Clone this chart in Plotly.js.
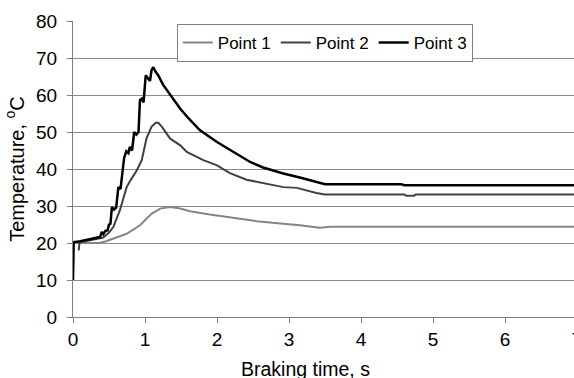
<!DOCTYPE html>
<html>
<head>
<meta charset="utf-8">
<script src="https://cdn.plot.ly/plotly-3.0.1.min.js"></script>
<style>
html,body{margin:0;padding:0;overflow:hidden;background:#fff;}
#chart{width:578px;height:378px;}
</style>
</head>
<body>
<div id="chart"></div>
<script>
const seriesNames = ["Point 1", "Point 2", "Point 3"];
const p1x = [0, 0.375, 0.45, 0.56, 0.745, 0.93, 1.09, 1.21, 1.35, 1.49, 1.625, 1.9, 2.23, 2.55, 2.92, 3.15, 3.43, 3.57, 7];
const p1y = [20, 20.1, 20.4, 21.2, 22.5, 24.8, 27.9, 29.3, 29.7, 29.3, 28.6, 27.7, 26.8, 25.9, 25.2, 24.8, 24.1, 24.4, 24.4];
const p2x = [0.08, 0.09, 0.2, 0.3, 0.42, 0.5, 0.56, 0.65, 0.7, 0.745, 0.8, 0.885, 0.955, 1.02, 1.09, 1.15, 1.185, 1.23, 1.35, 1.49, 1.58, 1.81, 2.0, 2.18, 2.41, 2.69, 2.92, 3.11, 3.38, 3.5, 4.6, 4.63, 4.74, 4.76, 7];
const p2y = [18, 20.2, 20.6, 21, 21.5, 22.8, 24.3, 28.8, 32, 35.1, 37, 39.6, 42.4, 48.2, 51.4, 52.5, 52.5, 51.5, 48.2, 46.4, 44.6, 42.4, 41, 38.9, 37.1, 36.1, 35.1, 34.9, 33.5, 33.1, 33.1, 32.8, 32.8, 33.1, 33.1];
const p3x = [0, 0.01, 0.1, 0.2, 0.3, 0.375, 0.4, 0.42, 0.45, 0.48, 0.5, 0.52, 0.54, 0.57, 0.6, 0.63, 0.66, 0.69, 0.71, 0.74, 0.77, 0.79, 0.82, 0.85, 0.88, 0.91, 0.93, 0.955, 0.98, 1.01, 1.05, 1.07, 1.09, 1.115, 1.15, 1.185, 1.25, 1.35, 1.49, 1.6, 1.76, 2.0, 2.23, 2.46, 2.64, 2.92, 3.15, 3.38, 3.5, 4.56, 4.6, 4.77, 7];
const p3y = [10, 20.2, 20.5, 20.9, 21.3, 21.6, 23, 22.4, 23.3, 23.4, 25, 25.2, 29.7, 29, 29.6, 35.1, 34.6, 39.6, 43, 44.8, 44.3, 46, 45, 50, 49.3, 50, 58.6, 59, 58, 65.3, 64.4, 63.8, 66.7, 67.5, 66.2, 65.3, 62.8, 60.2, 56.3, 53.8, 50.5, 47.3, 44.6, 41.9, 40.4, 38.8, 37.7, 36.5, 35.9, 35.9, 35.6, 35.6, 35.6];
const xTicks = [0, 1, 2, 3, 4, 5, 6, 7];
const yTicks = [0, 10, 20, 30, 40, 50, 60, 70, 80];
const xTitle = "Braking time, s";
const yTitle = "Temperature, <sup>o</sup>C";
const colors = ["#858585", "#404040", "#000000"];
const widths = [2, 2, 2.5];

const fam = "Liberation Sans, Arial, sans-serif";
const xs = [p1x, p2x, p3x], ys = [p1y, p2y, p3y];
const traces = seriesNames.map((n, i) => ({
  x: xs[i], y: ys[i], name: n, type: "scatter", mode: "lines",
  line: {color: colors[i], width: widths[i]}
}));

const layout = {
  width: 578, height: 378,
  margin: {l: 73, r: 1, t: 21, b: 61},
  paper_bgcolor: "#fff", plot_bgcolor: "#fff",
  font: {family: fam, size: 19, color: "#000"},
  showlegend: true,
  legend: {
    orientation: "h", x: 0.206, y: 0.99, xanchor: "left", yanchor: "top",
    bgcolor: "#fff", bordercolor: "#808080", borderwidth: 1,
    font: {family: fam, size: 17, color: "#000"},
    itemwidth: 30
  },
  annotations: [{
    text: xTitle, xref: "paper", yref: "paper", x: 0.462, y: -0.176,
    xanchor: "center", yanchor: "middle", showarrow: false,
    font: {family: fam, size: 19.5, color: "#000"}
  }],
  xaxis: {
    range: [0, 7], tickvals: xTicks, ticktext: xTicks.map(String),
    showgrid: false, zeroline: false, showline: true, linecolor: "#7f7f7f", linewidth: 1,
    ticks: "outside", ticklen: 5, tickcolor: "#7f7f7f", ticklabeloverflow: "allow",
    tickfont: {family: fam, size: 19, color: "#000"},
    fixedrange: true
  },
  yaxis: {
    range: [0, 80], tickvals: yTicks, ticktext: yTicks.map(String),
    showgrid: true, gridcolor: "#8c8c8c", gridwidth: 1,
    zeroline: false, showline: true, linecolor: "#7f7f7f", linewidth: 1,
    ticks: "outside", ticklen: 5, tickcolor: "#7f7f7f", ticklabelstandoff: 6,
    tickfont: {family: fam, size: 19, color: "#000"},
    title: {text: yTitle, font: {family: fam, size: 20}, standoff: 6},
    fixedrange: true
  }
};
Plotly.newPlot("chart", traces, layout, {staticPlot: true, displayModeBar: false});
</script>
</body>
</html>
